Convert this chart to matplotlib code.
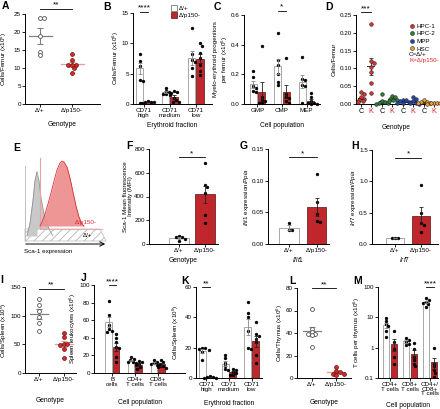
import numpy as np
import matplotlib
matplotlib.use('Agg')
import matplotlib.pyplot as plt
from matplotlib.lines import Line2D
from matplotlib.patches import Polygon

plt.rcParams['font.family'] = ['Liberation Sans', 'DejaVu Sans']
plt.rcParams['mathtext.fontset'] = 'custom'
plt.rcParams['mathtext.rm'] = 'Liberation Sans'
plt.rcParams['mathtext.it'] = 'Liberation Sans:italic'
plt.rcParams['hatch.linewidth'] = 0.6

# ---------------- data ----------------
geno = ["Δ/+", "Δ/p150-"]
A_ctrl = [24, 24, 19, 14.5, 13.5]
A_mut = [13.8, 12.3, 10.8, 10.8, 10.8, 10.0, 8.5]

B_cats = ["CD71\nhigh", "CD71\nmedium", "CD71\nlow"]
B_ctrl = [[8.2, 7.1, 6.3, 3.9, 3.8], [2.7, 2.2, 1.9, 1.7, 1.6, 1.5], [12.6, 8.2, 7.2, 7.0, 6.0, 4.6]]
B_mut = [[0.5, 0.4, 0.3, 0.3, 0.2, 0.2], [2.1, 2.0, 1.8, 1.0, 0.6, 0.4, 0.3], [10.0, 9.6, 8.4, 7.6, 6.5, 5.5, 4.8]]

C_cats = ["GMP", "CMP", "MEP"]
C_ctrl = [[0.22, 0.18, 0.12, 0.11, 0.09, 0.08], [0.48, 0.30, 0.26, 0.20, 0.15, 0.13], [0.32, 0.17, 0.16, 0.13, 0.12, 0.01]]
C_mut = [[0.39, 0.05, 0.03, 0.02, 0.01, 0.005], [0.31, 0.07, 0.05, 0.04, 0.02, 0.01], [0.075, 0.045, 0.02, 0.01, 0.005, 0.0, 0.0]]

D_pops = ["HPC-1", "HPC-2", "MPP", "HSC"]
D_colors = ["#e3302f", "#2f7d3a", "#2447b0", "#f0a030"]
D_ctrl = [[0.033, 0.027, 0.02, 0.015, 0.012, 0.008, 0.005], [0.027, 0.008, 0.005, 0.003, 0.002, 0.001],
          [0.012, 0.01, 0.008, 0.005, 0.003, 0.002], [0.01, 0.007, 0.005, 0.003, 0.002]]
D_mut = [[0.225, 0.12, 0.115, 0.105, 0.09, 0.058, 0.03], [0.022, 0.02, 0.015, 0.012, 0.01, 0.008],
         [0.02, 0.015, 0.008, 0.004, 0.002, 0.001], [0.004, 0.003, 0.002, 0.002, 0.001]]

E_gray_x = [27, 30, 33, 35, 37, 39, 41, 44, 47, 50, 53]
E_gray_h = [0, 12, 35, 55, 64, 55, 38, 22, 12, 5, 0]
E_red_x = [40, 42, 45, 48, 51, 54, 57, 60, 62, 64, 67, 70, 73, 76, 79, 82, 84]
E_red_h = [0, 4, 12, 22, 33, 45, 56, 63, 65, 64, 59, 48, 34, 20, 9, 2, 0]

F_ctrl = [45, 64, 56, 58, 22]
F_mut = [680, 498, 476, 428, 246, 176]
G_ctrl = [0.033, 0.0225, 0.0215]
G_mut = [0.11, 0.066, 0.048, 0.036, 0.034]
H_ctrl = [0.1, 0.1, 0.1]
H_mut = [0.94, 0.5, 0.33, 0.31, 0.19]

I_ctrl = [129, 119, 109, 97, 88, 73]
I_mut = [70, 62, 50, 50, 49, 41, 27]

J_cats = ["B\ncells", "CD4+\nT cells", "CD8+\nT cells"]
J_ctrl = [[82, 66, 55, 50, 48, 47], [18, 16, 15, 13, 12, 11], [15, 13, 11, 10, 9, 8]]
J_mut = [[44, 40, 35, 30, 28, 18, 12], [14, 12, 10, 9, 7, 5], [15, 12, 10, 8, 7, 6]]

K_cats = ["CD71\nhigh", "CD71\nmedium", "CD71\nlow"]
K_ctrl = [[20, 19.5, 19, 18.5, 17, 12], [15, 13, 10, 8, 6, 5], [50, 43, 40, 31, 20, 19]]
K_mut = [[1.0, 0.6, 0.4, 0.3, 0.2], [6, 5, 4, 3, 2, 2], [37, 29, 28, 26, 24, 15, 10]]

L_ctrl = [61, 44, 41, 39, 39, 38, 28]
L_mut = [10, 6, 5, 4, 4, 3]

M_cats = ["CD4+\nT cells", "CD8+\nT cells", "CD4+/\nCD8+\nT cells"]
M_ctrl = [[9.3, 7.5, 6, 5, 3.5, 2.2], [2.07, 1.84, 1.56, 1.36, 1.24], [42, 36, 33, 30, 27, 22]]
M_mut = [[3.6, 1.5, 0.9, 0.5, 0.3], [1.4, 0.9, 0.5, 0.4, 0.3, 0.25], [1.0, 0.3, 0.24, 0.18, 0.15, 0.11]]

# ---------------- style ----------------
W, H = 440, 409
fig = plt.figure(figsize=(W / 100, H / 100), dpi=100)
FS = 4.5
RED = '#c0272d'
DOTRED = '#d42a2a'
LBL = 4.8
YLABELS = []


def make_ax(l, t, r, b, xlim, ylim, log=False):
    ax = fig.add_axes([l / W, 1 - b / H, (r - l) / W, (b - t) / H])
    ax._px = (l, t, r, b)
    if log:
        ax.set_yscale('log')
    ax.set_xlim(*xlim)
    ax.set_ylim(*ylim)
    for s in ['top', 'right']:
        ax.spines[s].set_visible(False)
    for s in ['left', 'bottom']:
        ax.spines[s].set_linewidth(0.7)
    ax.tick_params(width=0.6, length=2, labelsize=FS, pad=1)
    ax.patch.set_alpha(0)
    sx = (r - l) / (xlim[1] - xlim[0])
    if log:
        k = (b - t) / np.log10(ylim[1] / ylim[0])
        yfun = lambda v: k * np.log10(max(v, 1e-9))
    else:
        k = (b - t) / (ylim[1] - ylim[0])
        yfun = lambda v: k * v
    return ax, sx, yfun


def swarm(vals, center, sx, yfun, d=2.8):
    vals = list(vals)
    order = np.argsort(vals)[::-1]
    placed = []
    out = np.zeros(len(vals))
    for i in order:
        y = yfun(vals[i])
        ox = 0
        for kk in [0, 1, -1, 2, -2, 3, -3, 4, -4, 5, -5]:
            ox = kk * d * 0.55
            if all((ox - px) ** 2 + (y - py) ** 2 >= d * d for px, py in placed):
                break
        placed.append((ox, y))
        out[i] = center + ox / sx
    return out


def stats(v):
    v = np.asarray(v, float)
    return v.mean(), v.std(ddof=1) / np.sqrt(len(v))


def bar_group(ax, x, vals, mut, sx, yfun, width):
    m, se = stats(vals)
    if mut:
        ax.bar(x, m, width=width, color=RED, edgecolor='#5a1010', linewidth=0.5, zorder=1)
        ec = '#222222'
    else:
        ax.bar(x, m, width=width, color='white', edgecolor='#9a9a9a', linewidth=0.6, zorder=1)
        ec = '#888888'
    xs = swarm(vals, x, sx, yfun)
    ax.plot(xs, vals, 'o', ms=2.1, color='black', mec='black', mew=0.3, zorder=3, clip_on=False)
    lo = min(se, m * 0.999) if ax.get_yscale() == 'log' else se
    ax.errorbar(x, m, yerr=[[lo], [se]], color=ec, capsize=1.5, elinewidth=0.6, capthick=0.6, zorder=4)


def scatter_group(ax, x, vals, mut, sx, yfun):
    m, se = stats(vals)
    linec = '#e89a9a' if mut else '#808080'
    ax.plot([x - 0.36, x + 0.36], [m, m], color=linec, lw=0.9, zorder=2)
    ax.errorbar(x, m, yerr=se, color=linec, capsize=2.2, elinewidth=0.8, capthick=0.8, zorder=2)
    xs = swarm(vals, x, sx, yfun, d=3.3)
    if mut:
        ax.plot(xs, vals, 'o', ms=2.8, mfc=DOTRED, mec='#6a0f0f', mew=0.5, zorder=3, clip_on=False)
    else:
        ax.plot(xs, vals, 'o', ms=2.8, mfc='white', mec='#555555', mew=0.6, zorder=3, clip_on=False)


def sig(ax, x0, x1, y, text):
    ax.plot([x0, x1], [y, y], color='black', lw=0.6, clip_on=False)
    ax.text((x0 + x1) / 2, y, text, ha='center', va='bottom', fontsize=6, clip_on=False)


def letter(x, y, s):
    fig.text(x / W, 1 - y / H, s, ha='left', va='top', fontsize=7.5, weight='bold')


def ylab(ax, s, right_px):
    ax.set_ylabel(s, fontsize=FS)
    YLABELS.append((ax, right_px))


def xlab(ax, s, top_px):
    l, t, r, b = ax._px
    ax.set_xlabel(s, fontsize=LBL)
    ax.xaxis.set_label_coords(0.5, (b - top_px) / (b - t))


U6 = r'(x10$^6$)'

# ---------------- A ----------------
ax, sx, yf = make_ax(25, 14, 100, 104, (-0.47, 1.875), (0, 25))
scatter_group(ax, 0, A_ctrl, False, sx, yf)
scatter_group(ax, 1, A_mut, True, sx, yf)
ax.set_xticks([0, 1], geno)
ax.set_yticks(range(0, 26, 5))
ylab(ax, 'Cells/Femur ' + U6, 9)
xlab(ax, 'Genotype', 121)
sig(ax, 0, 1, 26.5, '**')
letter(2, 1, 'A')

# ---------------- B ----------------
ax, sx, yf = make_ax(133, 13, 212, 104, (-0.42, 2.62), (0, 15))
for i in range(3):
    bar_group(ax, i - 0.16, B_ctrl[i], False, sx, yf, 0.28)
    bar_group(ax, i + 0.16, B_mut[i], True, sx, yf, 0.28)
ax.set_xticks(range(3), B_cats, linespacing=0.95)
ax.set_yticks([0, 5, 10, 15])
ylab(ax, 'Cells/Femur ' + U6, 124)
xlab(ax, 'Erythroid fraction', 122)
sig(ax, -0.16, 0.16, 15.2, '****')
lh = [plt.Rectangle((0, 0), 1, 1, fc='white', ec='#777777', lw=0.6),
      plt.Rectangle((0, 0), 1, 1, fc=RED, ec='#5a1010', lw=0.5)]
ax.legend(lh, geno, loc='upper left', bbox_to_anchor=(0.44, 1.12), fontsize=FS, frameon=False,
          handlelength=1.0, handleheight=1.0, handletextpad=0.3, labelspacing=0.15, borderpad=0)
letter(103, 2, 'B')

# ---------------- C ----------------
ax, sx, yf = make_ax(244, 15, 320, 104, (-0.55, 2.55), (0, 0.6))
for i in range(3):
    bar_group(ax, i - 0.17, C_ctrl[i], False, sx, yf, 0.28)
    bar_group(ax, i + 0.17, C_mut[i], True, sx, yf, 0.28)
ax.set_xticks(range(3), C_cats)
ax.set_yticks([0, 0.2, 0.4, 0.6])
ax.yaxis.set_major_formatter(matplotlib.ticker.FormatStrFormatter('%.1f'))
ylab(ax, 'Myelo-erythroid progenitors\nper femur ' + U6, 234)
xlab(ax, 'Cell population', 122)
sig(ax, 1 - 0.17, 1 + 0.17, 0.63, '*')
letter(214, 2, 'C')

# ---------------- D ----------------
ax, sx, yf = make_ax(356, 15, 437, 104, (-0.5, 7.6), (0, 0.25))
dpos = []
for i in range(4):
    c = D_colors[i]
    for j, vals in enumerate([D_ctrl[i], D_mut[i]]):
        x = i * 2.1 + j * 0.98
        dpos.append(x)
        m, se = stats(vals)
        ax.plot([x - 0.35, x + 0.35], [m, m], color='#333333', lw=0.7, zorder=2)
        ax.errorbar(x, m, yerr=se, color='#333333', capsize=1.5, elinewidth=0.6, capthick=0.6, zorder=2)
        xs = swarm(vals, x, sx, yf, d=2.9)
        ax.plot(xs, vals, 'o', ms=2.6, mfc=c, mec='#222222', mew=0.4, zorder=3, clip_on=False)
ax.set_xticks(dpos, ['C', 'K'] * 4)
for k, tl in enumerate(ax.get_xticklabels()):
    tl.set_color('black' if k % 2 == 0 else '#e0242a')
    tl.set_fontsize(5.2)
ax.set_yticks(np.arange(0, 0.26, 0.05))
ax.yaxis.set_major_formatter(matplotlib.ticker.FormatStrFormatter('%.2f'))
ylab(ax, 'Cells/Femur', 337)
xlab(ax, 'Genotype', 124)
sig(ax, 0, 0.98, 0.258, '***')
dh = [Line2D([], [], ls='', marker='o', ms=2.8, mfc=c, mec='#222222', mew=0.4) for c in D_colors]
ax.legend(dh, D_pops, loc='upper left', bbox_to_anchor=(0.63, 0.94), fontsize=FS, frameon=False,
          handlelength=0.6, handletextpad=0.4, labelspacing=0.35, borderpad=0)
ax.text(0.655, 0.555, 'C=Δ/+', transform=ax.transAxes, fontsize=FS, ha='left', va='center')
ax.text(0.655, 0.49, 'K=Δ/p150-', transform=ax.transAxes, fontsize=FS, ha='left', va='center', color='#e0242a')
letter(325, 2, 'D')

# ---------------- E ----------------
axE = fig.add_axes([15 / W, 1 - 258 / H, (112 - 15) / W, (258 - 140) / H])
axE.set_xlim(15, 112)
axE.set_ylim(258, 140)
axE.axis('off')
gb = 236
axE.plot([25, 25], [gb - 70, gb + 5], color='#c0c0c0', lw=0.7)
gx = np.array(E_gray_x)
gh = np.array(E_gray_h)
axE.fill_between(gx, gb, gb - gh, color='#c9c9c9', lw=0)
axE.plot(gx, gb - gh, color='#9a9a9a', lw=0.6)
band = Polygon([[25, 229], [100, 229], [106, 241], [25, 241]], closed=True, fc='white',
               hatch='////', lw=0.5)
band.set_edgecolor('#b5b5b5')
axE.add_patch(band)
axE.fill_between(gx[:5], gb, gb - gh[:5], color='#c9c9c9', lw=0, zorder=3)
axE.plot(gx[:5], gb - gh[:5], color='#9a9a9a', lw=0.6, zorder=3)
rb = 226
axE.plot([40, 40], [rb - 68, rb + 3], color='#f0a0a0', lw=0.8, zorder=4)
rx = np.array(E_red_x)
rh = np.array(E_red_h)
axE.fill_between(rx, rb, rb - rh, color='#ee8f8f', alpha=0.95, lw=0, zorder=4)
axE.plot(rx, rb - rh, color='#d5323a', lw=0.6, zorder=5)
axE.plot([40, 102], [rb + 3, rb + 3], color='#e8a0a0', lw=0.6, zorder=4)
axE.text(86, 225, 'Δ/p150-', color='#e0242a', fontsize=FS, ha='center', va='bottom', zorder=6)
axE.text(88, 238, 'Δ/+', color='black', fontsize=FS, ha='center', va='bottom', zorder=6)
axE.annotate('', xy=(108, 244), xytext=(23, 244),
             arrowprops=dict(arrowstyle='->', lw=0.7, color='black', mutation_scale=8))
axE.text(24, 252, 'Sca-1 expression', fontsize=FS, ha='left', va='center')
letter(13, 143, 'E')

# ---------------- F ----------------
ax, sx, yf = make_ax(149, 149, 218, 244, (-1.15, 1.5), (0, 800))
bar_group(ax, 0, F_ctrl, False, sx, yf, 0.77)
bar_group(ax, 1, F_mut, True, sx, yf, 0.77)
ax.set_xticks([0, 1], geno)
ax.set_yticks(range(0, 801, 200))
ylab(ax, 'Sca-1 Mean fluorescence\nIntensity (MFI)', 137)
xlab(ax, 'Genotype', 257)
sig(ax, 0, 1, 730, '*')
letter(126, 141, 'F')

# ---------------- G ----------------
ax, sx, yf = make_ax(268, 149, 329, 244, (-0.75, 1.43), (0, 0.15))
bar_group(ax, 0, G_ctrl, False, sx, yf, 0.68)
bar_group(ax, 1, G_mut, True, sx, yf, 0.68)
ax.set_xticks([0, 1], geno)
ax.set_yticks([0, 0.05, 0.10, 0.15])
ax.yaxis.set_major_formatter(matplotlib.ticker.FormatStrFormatter('%.2f'))
ylab(ax, r'$\it{Ifit1}$ expression/$\it{Ppia}$', 256)
xlab(ax, r'$\it{Ifit1}$', 255)
sig(ax, 0, 1, 0.137, '*')
letter(240, 141, 'G')

# ---------------- H ----------------
ax, sx, yf = make_ax(372, 150, 438, 244, (-0.88, 1.65), (0, 1.5))
bar_group(ax, 0, H_ctrl, False, sx, yf, 0.67)
bar_group(ax, 1, H_mut, True, sx, yf, 0.67)
ax.set_xticks([0, 1], geno)
ax.set_yticks([0, 0.5, 1.0, 1.5])
ax.yaxis.set_major_formatter(matplotlib.ticker.FormatStrFormatter('%.1f'))
ylab(ax, r'$\it{Irf7}$ expression/$\it{Ppia}$', 362)
xlab(ax, r'$\it{Irf7}$', 255)
sig(ax, 0, 1, 1.38, '*')
letter(351, 141, 'H')

# ---------------- I ----------------
ax, sx, yf = make_ax(25, 287, 76, 373, (-0.56, 1.5), (0, 150))
scatter_group(ax, 0, I_ctrl, False, sx, yf)
scatter_group(ax, 1, I_mut, True, sx, yf)
ax.set_xticks([0, 1], geno)
ax.set_yticks([0, 50, 100, 150])
ylab(ax, 'Cells/Spleen ' + U6, 9)
xlab(ax, 'Genotype', 397)
sig(ax, 0, 1, 147, '**')
letter(0, 275, 'I')

# ---------------- J ----------------
ax, sx, yf = make_ax(94, 285, 185, 373, (-0.8, 3.2), (0, 100))
for i in range(3):
    bar_group(ax, i - 0.16, J_ctrl[i], False, sx, yf, 0.28)
    bar_group(ax, i + 0.16, J_mut[i], True, sx, yf, 0.28)
ax.set_xticks(range(3), J_cats, linespacing=0.95)
ax.set_yticks(range(0, 101, 20))
ylab(ax, 'Spleen leukocytes ' + U6, 84)
xlab(ax, 'Cell population', 399)
sig(ax, -0.16, 0.16, 100, '****')
letter(81, 273, 'J')

# ---------------- K ----------------
ax, sx, yf = make_ax(196, 287, 262, 378, (-0.45, 2.45), (0, 60))
for i in range(3):
    bar_group(ax, i - 0.17, K_ctrl[i], False, sx, yf, 0.3)
    bar_group(ax, i + 0.17, K_mut[i], True, sx, yf, 0.3)
ax.set_xticks(range(3), K_cats, linespacing=0.95)
ax.set_yticks([0, 20, 40, 60])
ylab(ax, 'Cells/Spleen ' + U6, 181)
xlab(ax, 'Erythroid fraction', 400)
sig(ax, -0.17, 0.17, 60, '**')
letter(181, 276, 'K')

# ---------------- L ----------------
ax, sx, yf = make_ax(297, 288, 351, 378, (-0.6, 1.6), (0, 80))
scatter_group(ax, 0, L_ctrl, False, sx, yf)
scatter_group(ax, 1, L_mut, True, sx, yf)
ax.set_xticks([0, 1], geno)
ax.set_yticks(range(0, 81, 20))
ylab(ax, 'Cells/Thymus ' + U6, 285)
xlab(ax, 'Genotype', 399)
sig(ax, 0, 1, 80, '**')
letter(289, 276, 'L')

# ---------------- M ----------------
ax, sx, yf = make_ax(378, 287, 438, 378, (-0.6, 2.4), (0.1, 100), log=True)
for i in range(3):
    bar_group(ax, i - 0.18, M_ctrl[i], False, sx, yf, 0.3)
    bar_group(ax, i + 0.18, M_mut[i], True, sx, yf, 0.3)
ax.set_xticks(range(3), M_cats, linespacing=0.9)
ax.set_yticks([0.1, 1, 10, 100], ['0.1', '1', '10', '100'])
ax.yaxis.set_minor_locator(matplotlib.ticker.NullLocator())
ylab(ax, 'T cells per thymus ' + U6, 366)
xlab(ax, 'Cell population', 402)
sig(ax, 2 - 0.18, 2 + 0.18, 100, '****')
letter(353, 276, 'M')

# place y labels just left of the tick labels
fig.canvas.draw()
rend = fig.canvas.get_renderer()
for ax, rp in YLABELS:
    l, t, r, b = ax._px
    xs0 = [tl.get_window_extent(rend).x0 for tl in ax.get_yticklabels() if tl.get_text()]
    rp2 = min(rp, min(xs0) - 1.0)
    ax.yaxis.set_label_coords((rp2 - l) / (r - l), 0.5)

fig.savefig('out.png', dpi=100)
